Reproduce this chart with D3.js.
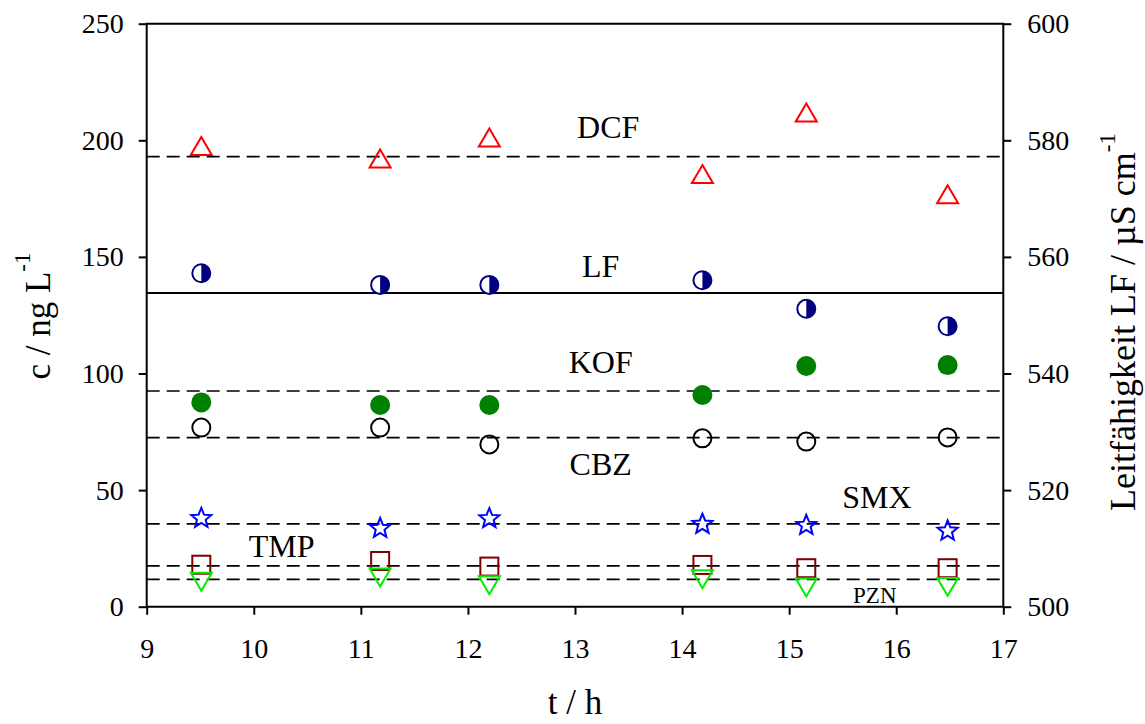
<!DOCTYPE html>
<html>
<head>
<meta charset="utf-8">
<script src="https://cdn.jsdelivr.net/npm/d3@7"></script>
<style>
  html, body { margin: 0; padding: 0; background: #fff; }
  svg { display: block; font-family: "Liberation Serif", "Times New Roman", serif; }
</style>
</head>
<body>
<svg id="chart" width="1145" height="724"></svg>
<script>
// Sampling times (h)
const times = [9.51, 11.18, 12.20, 14.19, 15.16, 16.48];

// Concentrations (ng/L)
const dcf = [197.6, 192.2, 201.2, 185.5, 211.9, 176.9];
const kof = [87.6, 86.5, 86.5, 90.8, 103.2, 103.6];
const cbz = [76.8, 76.8, 69.6, 72.2, 70.8, 72.6];
const smx = [38.3, 34.0, 38.2, 35.8, 35.3, 32.9];
const tmp = [18.0, 19.6, 17.2, 17.9, 16.5, 16.5];
const pzn = [10.7, 12.5, 9.2, 11.8, 8.2, 8.5];

// Conductivity LF (µS/cm), right axis
const lf = [557.2, 555.2, 555.2, 556.0, 551.1, 548.1];

// Mean levels
const meanNames = ["DCF", "KOF", "CBZ", "SMX", "TMP", "PZN"];
const meanValues = [193.0, 92.5, 72.5, 35.5, 17.5, 11.7];
const lfMean = 553.8;

// Tick values
const xTicks = [9, 10, 11, 12, 13, 14, 15, 16, 17];
const yTicks = [0, 50, 100, 150, 200, 250];
const y2Ticks = [500, 520, 540, 560, 580, 600];

// Series labels and their anchor points (data units)
const labelNames = ["DCF", "LF", "KOF", "CBZ", "SMX", "TMP", "PZN"];
const labelX = [13.31, 13.24, 13.24, 13.24, 15.82, 10.26, 15.80];
const labelY = [201.0, 141.4, 100.1, 56.5, 42.3, 21.3, 1.6];

const svg = d3.select("#chart");
const L = 146.7, R = 1003.3, T = 23.7, B = 606.7;

const x = d3.scaleLinear().domain([9, 17]).range([L, R]);
const y = d3.scaleLinear().domain([0, 250]).range([B, T]);
const y2 = d3.scaleLinear().domain([500, 600]).range([B, T]);

const tickFont = 28;

// Mean lines
const g = svg.append("g");
g.selectAll("line.mean").data(meanValues).join("line")
  .attr("class", "mean")
  .attr("x1", L).attr("x2", R)
  .attr("y1", d => y(d)).attr("y2", d => y(d))
  .attr("stroke", "#000").attr("stroke-width", 1.6)
  .attr("stroke-dasharray", "13,7");

g.append("line")
  .attr("x1", L).attr("x2", R)
  .attr("y1", y2(lfMean)).attr("y2", y2(lfMean))
  .attr("stroke", "#000").attr("stroke-width", 2);

// Axes
const axisStyle = sel => {
  sel.select(".domain").remove();
  sel.selectAll(".tick line").attr("stroke", "#000").attr("stroke-width", 2);
  sel.selectAll(".tick text").attr("font-size", tickFont)
    .attr("font-family", "Liberation Serif, Times New Roman, serif").attr("fill", "#000");
};

svg.append("g").attr("transform", `translate(0,${B})`)
  .call(d3.axisBottom(x).tickValues(xTicks).tickSize(8).tickPadding(23).tickFormat(d3.format("d")))
  .call(axisStyle);

svg.append("g").attr("transform", `translate(${L},0)`)
  .call(d3.axisLeft(y).tickValues(yTicks).tickSize(8).tickPadding(15).tickFormat(d3.format("d")))
  .call(axisStyle);

svg.append("g").attr("transform", `translate(${R},0)`)
  .call(d3.axisRight(y2).tickValues(y2Ticks).tickSize(8).tickPadding(16).tickFormat(d3.format("d")))
  .call(axisStyle);

// Frame
svg.append("path")
  .attr("d", `M${L},${B}V${T}H${R}V${B}H${L}`)
  .attr("fill", "none").attr("stroke", "#000").attr("stroke-width", 2);

// Markers
const idx = d3.range(times.length);

// DCF: open triangles (up)
g.selectAll("path.dcf").data(idx).join("path")
  .attr("d", i => {
    const cx = x(times[i]), cy = y(dcf[i]);
    return `M${cx},${cy - 9}L${cx + 10.5},${cy + 9}L${cx - 10.5},${cy + 9}Z`;
  })
  .attr("fill", "none").attr("stroke", "#ff0000").attr("stroke-width", 2);

// LF: half-filled circles
const lfG = g.selectAll("g.lf").data(idx).join("g")
  .attr("transform", i => `translate(${x(times[i])},${y2(lf[i])})`);
lfG.append("circle").attr("r", 9).attr("fill", "#fff")
  .attr("stroke", "#000080").attr("stroke-width", 2);
lfG.append("path").attr("d", "M0,-9A9,9 0 0,1 0,9Z").attr("fill", "#000080");

// KOF: filled green circles
g.selectAll("circle.kof").data(idx).join("circle")
  .attr("cx", i => x(times[i])).attr("cy", i => y(kof[i]))
  .attr("r", 10).attr("fill", "#008000");

// CBZ: open black circles
g.selectAll("circle.cbz").data(idx).join("circle")
  .attr("cx", i => x(times[i])).attr("cy", i => y(cbz[i]))
  .attr("r", 9).attr("fill", "none").attr("stroke", "#000").attr("stroke-width", 2);

// SMX: open stars
const starPath = (cx, cy, ro, ri) => {
  const pts = [];
  for (let k = 0; k < 10; k++) {
    const a = -Math.PI / 2 + k * Math.PI / 5;
    const r = k % 2 === 0 ? ro : ri;
    pts.push([cx + r * Math.cos(a), cy + r * Math.sin(a)]);
  }
  return "M" + pts.map(p => p.join(",")).join("L") + "Z";
};
g.selectAll("path.smx").data(idx).join("path")
  .attr("d", i => starPath(x(times[i]), y(smx[i]) + 1, 10.5, 4.6))
  .attr("fill", "none").attr("stroke", "#0000ff").attr("stroke-width", 2);

// TMP: open squares
g.selectAll("rect.tmp").data(idx).join("rect")
  .attr("x", i => x(times[i]) - 9).attr("y", i => y(tmp[i]) - 9)
  .attr("width", 18).attr("height", 18)
  .attr("fill", "none").attr("stroke", "#800000").attr("stroke-width", 2);

// PZN: open triangles (down)
g.selectAll("path.pzn").data(idx).join("path")
  .attr("d", i => {
    const cx = x(times[i]), cy = y(pzn[i]);
    return `M${cx - 10.5},${cy - 9}L${cx + 10.5},${cy - 9}L${cx},${cy + 9}Z`;
  })
  .attr("fill", "none").attr("stroke", "#00ee00").attr("stroke-width", 2);

// Series labels
svg.selectAll("text.lbl").data(labelNames).join("text")
  .attr("class", "lbl")
  .attr("x", (d, i) => x(labelX[i]))
  .attr("y", (d, i) => y(labelY[i]))
  .attr("text-anchor", "middle")
  .attr("font-size", d => d === "PZN" ? 23 : 32)
  .text(d => d);

// Axis titles
svg.append("text")
  .attr("x", x(13)).attr("y", 714)
  .attr("text-anchor", "middle").attr("font-size", 35)
  .text("t / h");

const leftTitle = svg.append("text")
  .attr("transform", "translate(50,316) rotate(-90)")
  .attr("text-anchor", "middle").attr("font-size", 35);
leftTitle.append("tspan").text("c / ng L");
leftTitle.append("tspan").attr("dy", -20).attr("font-size", 23).text("-1");

const rightTitle = svg.append("text")
  .attr("transform", "translate(1135,322) rotate(-90)")
  .attr("text-anchor", "middle").attr("font-size", 36);
rightTitle.append("tspan").text("Leitfähigkeit LF / µS cm");
rightTitle.append("tspan").attr("dy", -20).attr("font-size", 23).text("-1");
</script>
</body>
</html>
